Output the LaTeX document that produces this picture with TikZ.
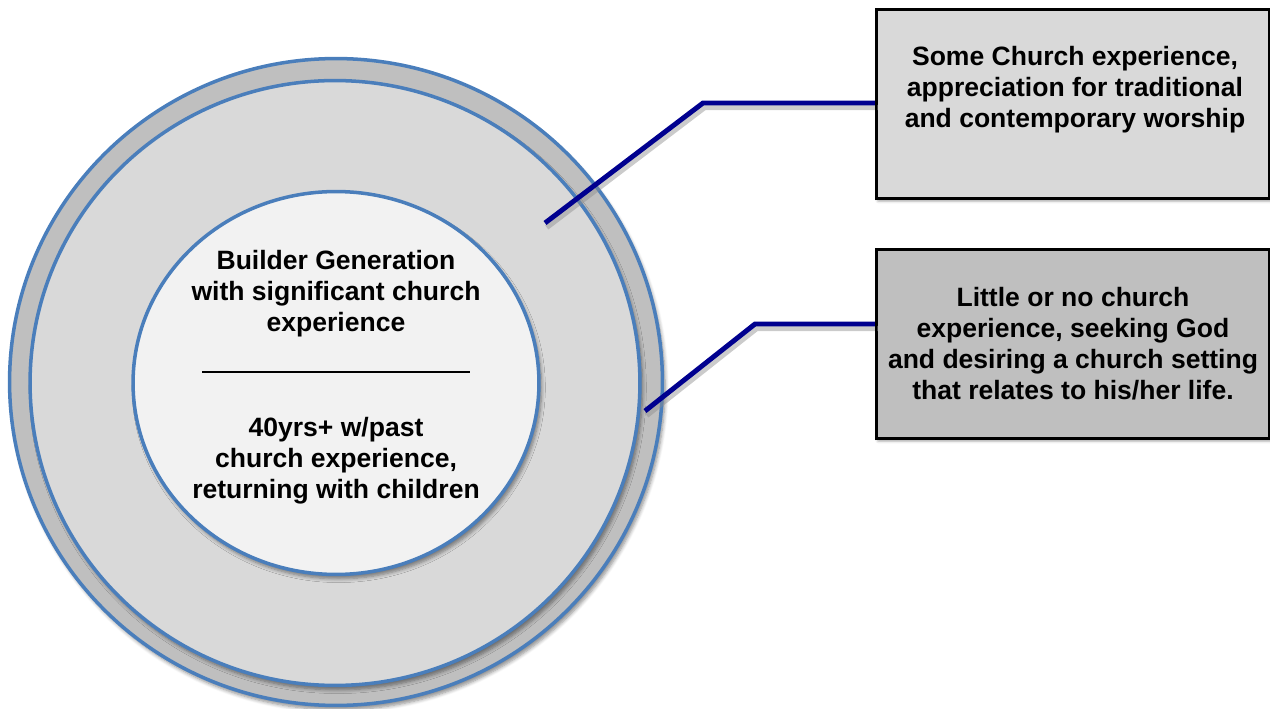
\documentclass[tikz,border=0pt]{standalone}
\usepackage{fontspec}
\setmainfont{Liberation Sans}
\usetikzlibrary{shapes.geometric,shadows.blur,positioning}

\definecolor{ringblue}{HTML}{4A7EBB}
\definecolor{linknavy}{HTML}{00008F}
\definecolor{greyA}{HTML}{BFBFBF}
\definecolor{greyB}{HTML}{D9D9D9}
\definecolor{greyC}{HTML}{F2F2F2}

\tikzset{
  ring/.style={ellipse, draw=ringblue, line width=2pt, inner sep=0pt,
    blur shadow={shadow xshift=1.5pt, shadow yshift=-2.5pt, shadow blur steps=6, shadow opacity=45}},
  infobox/.style={draw=black, line width=1.2pt, minimum width=7.84cm, minimum height=3.76cm,
    blur shadow={shadow xshift=1pt, shadow yshift=-1pt, shadow blur steps=3, shadow opacity=70}},
  txt/.style={font=\bfseries\fontsize{15.1}{17.6}\selectfont, align=center},
  link/.style={draw=linknavy, line width=2.8pt,
    preaction={draw=black!45, opacity=0.45, line width=3pt, transform canvas={shift={(1pt,-2.5pt)}}}},
}

\begin{document}
\begin{tikzpicture}[x=0.02cm, y=-0.02cm]
    \useasboundingbox (0,0) rectangle (1270,709);

    % rings
    \node (outer) [ring, fill=greyA, minimum width=13.06cm, minimum height=12.94cm] at (336,382) {};
    \node (middle) [ring, fill=greyB, minimum width=12.2cm, minimum height=12.1cm] at (335,383) {};
    \node (core) [ring, fill=greyC, minimum width=8.12cm, minimum height=7.66cm] at (336,383) {};

    \node (builder) [txt] at (336,294) {Builder Generation\\with significant church\\experience};
    \draw[line width=0.8pt] (202,372) -- (470,372);
    \node (returning) [txt] at (336,461) {40yrs+ w/past\\church experience,\\returning with children};

    % callouts
    \node (boxA) [infobox, fill=greyB] at (1073,104) {};
    \node (boxAtext) [txt] at (1075,90) {Some Church experience,\\appreciation for traditional\\and contemporary worship};
    \node (boxB) [infobox, fill=greyA] at (1073,344) {};
    \node (boxBtext) [txt] at (1073,344) {Little or no church\\experience, seeking God\\and desiring a church setting\\that relates to his/her life.};

    \coordinate (tipA) at (545,223);
    \coordinate (bendA) at (703,103);
    \coordinate (tipB) at (645,411);
    \coordinate (bendB) at (755,324);

    \draw[link] (tipA) -- (bendA) -- (bendA -| boxA.west);
    \draw[link] (tipB) -- (bendB) -- (bendB -| boxB.west);

    % boxes drawn again on top of link ends
    \draw[line width=1.2pt] (boxA.north west) rectangle (boxA.south east);
    \draw[line width=1.2pt] (boxB.north west) rectangle (boxB.south east);
\end{tikzpicture}
\end{document}
